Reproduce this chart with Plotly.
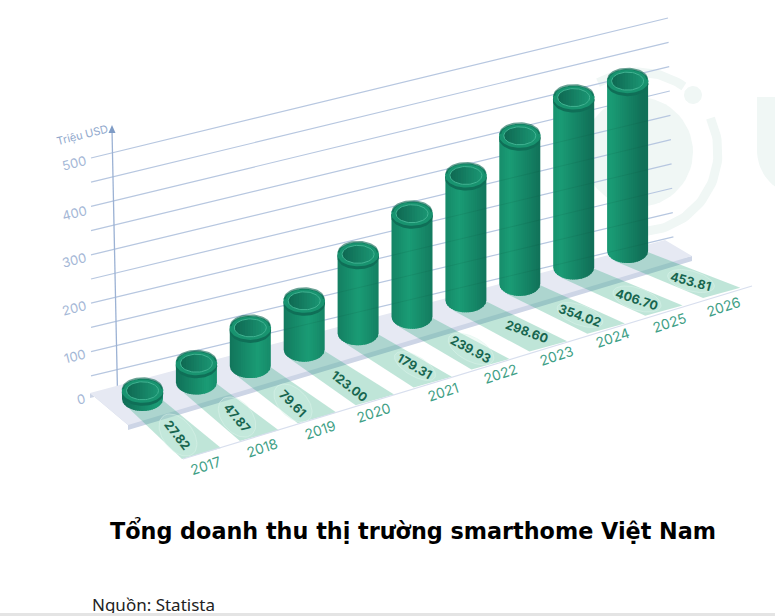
import math
import plotly.graph_objects as go

# ---------- data ----------
years = ["2017", "2018", "2019", "2020", "2021", "2022", "2023", "2024", "2025", "2026"]
printed_values = ["27.82", "47.87", "79.61", "123.00", "179.31", "239.93", "298.60", "354.02", "406.70", "453.81"]
# column heights as drawn, read against the chart's own value axis
drawn_heights = [17, 40, 79, 101, 163, 213, 258, 306, 351, 351]
axis_ticks = [0, 100, 200, 300, 400, 500]
grid_levels = [50, 100, 150, 200, 250, 300, 350, 400, 450, 500]
axis_unit = "Triệu USD"
title_text = "Tổng doanh thu thị trường smarthome Việt Nam"
source_text = "Nguồn: Statista"

# ---------- oblique projection of the printed 3D scene ----------
W, H = 775, 616
K = 0.484
A, B = 20.5, 12


def base_xy(i):
    return 142.5 + 53.9 * i, 399 - 16.44 * i


def top_xy(i):
    x, y = base_xy(i)
    return x, y - drawn_heights[i] * K


def grid_line(v):
    y0 = 400 - K * v
    x1 = 674 - 6 * v / 500
    return [91, x1], [y0, y0 - (x1 - 91) * (0.238 + 0.0046 * v / 500)]


def ell(cx, cy, a, b, t0=0, t1=360, n=60, rot=0):
    xs, ys = [], []
    cr, sr = math.cos(math.radians(rot)), math.sin(math.radians(rot))
    for k in range(n + 1):
        t = math.radians(t0 + (t1 - t0) * k / n)
        px, py = a * math.cos(t), b * math.sin(t)
        xs.append(cx + px * cr - py * sr)
        ys.append(cy + px * sr + py * cr)
    return xs, ys


def mix(c1, c2, f):
    f = max(0, min(1, f))
    return "#%02x%02x%02x" % tuple(round(c1[j] + (c2[j] - c1[j]) * f) for j in range(3))


DARK, LIGHT = (17, 112, 88), (26, 156, 117)

fig = go.Figure()


def poly(xs, ys, fill, line=None, width=0):
    fig.add_trace(go.Scatter(
        x=xs, y=ys, mode="lines", fill="toself", fillcolor=fill,
        line=dict(color=line or fill, width=width), hoverinfo="skip", showlegend=False))


def stroke(xs, ys, color, width):
    fig.add_trace(go.Scatter(
        x=xs, y=ys, mode="lines", line=dict(color=color, width=width),
        hoverinfo="skip", showlegend=False))


# ---------- faint watermark ----------
WM = "#f0f7f5"
x, y = ell(638, 152, 55, 55)
poly(x, y, WM)
x, y = ell(638, 152, 80, 80, -25, 110, 50)
stroke(x, y, WM, 9)
x, y = ell(638, 152, 80, 80, -120, -55, 30)
stroke(x, y, WM, 9)
x, y = ell(693, 95, 9, 9)
poly(x, y, WM)
ux, uy = ell(800, 150, 43, 45, 90, 180, 20)
poly([757, 800] + ux + [757], [97, 97] + uy + [97], WM)

# ---------- grid and value axis ----------
for v in grid_levels:
    gx, gy = grid_line(v)
    stroke(gx, gy, "#b7c7e0", 1.2)
stroke([117.5, 112], [392, 130], "#9cb2d4", 1.3)
poly([112, 108.5, 115.5, 112], [125, 133, 133, 125], "#7f9cc6")

# ---------- platform ----------
poly([90, 128, 128, 692, 692, 90, 90], [393, 425, 430, 261, 256, 398, 393], "#cdd5e6")
poly([90, 128, 692, 665, 90], [393, 425, 256, 240, 393], "#e6e9f3")

# ---------- strips under each column ----------
for i in range(10):
    bx, by = base_xy(i)
    rx, ry = 221 + 57.7 * i, 448 - 17.8 * i
    lx, ly = 182 + 57.9 * i, 459 - 17.9 * i
    poly([bx - 13, bx + 20, rx, lx, bx - 13],
         [by + 10, by + 1, ry, ly, by + 10], "rgba(18,160,112,0.27)")
stroke([183, 752], [459, 286], "#d8dfee", 1.2)

# ---------- cylinder bodies, drawn as shaded vertical slices, left to right ----------
N_SLICES = 22
for i in range(10):
    bx, by = base_xy(i)
    tx, ty = top_xy(i)
    glow = 0.85 - 0.68 * i / 8
    for k in range(N_SLICES):
        # each slice runs on past its right edge, the next one paints over it
        u0, u1 = -1 + 2 * k / N_SLICES, min(1, -1 + 2 * (k + 1.6) / N_SLICES)
        uc = (k + 0.5) / N_SLICES
        level = 1 - abs(uc - glow) * 1.3
        c = mix(DARK, LIGHT, level)
        us = [u0 + (u1 - u0) * q / 4 for q in range(5)]
        px = [bx + A * u for u in us]
        py = [by + B * math.sqrt(max(0, 1 - u * u)) for u in us]
        poly([px[0], px[-1]] + px[::-1] + [px[0]], [ty, ty] + py[::-1] + [ty], c)

# faint grid lines showing through the columns
for v in grid_levels:
    gx, gy = grid_line(v)
    slope = (gy[1] - gy[0]) / (gx[1] - gx[0])
    for i in range(10):
        bx, by = base_xy(i)
        tx, ty = top_xy(i)
        xa, xb = bx - A + 1, bx + A - 1
        ya = gy[0] + (xa - gx[0]) * slope
        yb = gy[0] + (xb - gx[0]) * slope
        if min(ya, yb) > ty + B + 4 and max(ya, yb) < by + 4:
            stroke([xa, xb], [ya, yb], "rgba(5,60,45,0.14)", 0.8)

# ---------- cylinder tops ----------
for i in range(10):
    tx, ty = top_xy(i)
    x, y = ell(tx, ty + 3, A + 0.3, B)
    poly(x, y, "#0f6f57")
    x, y = ell(tx, ty, A + 0.3, B)
    poly(x, y, "#18936f")
    x, y = ell(tx, ty - 2, A - 1, B - 1.5, 180, 360, 30)
    stroke(x, y, "rgba(10,100,78,0.6)", 2)
    # inner well, darker towards the left
    M = 12
    a_in, b_in = 16, 9
    for k in range(M):
        u0, u1 = -1 + 2 * k / M, min(1, -1 + 2 * (k + 1.5) / M)
        us = [u0 + (u1 - u0) * q / 3 for q in range(4)]
        hs = [b_in * math.sqrt(max(0, 1 - u * u)) for u in us]
        xs = [tx + a_in * u for u in us]
        c = mix((15, 104, 82), (27, 150, 115), (k + 0.5) / M)
        poly(xs + xs[::-1] + [xs[0]], [ty - h for h in hs] + [ty + h for h in hs[::-1]] + [ty - hs[0]], c)
    x, y = ell(tx, ty, a_in, b_in)
    stroke(x, y, "#41b392", 1)

# ---------- value pills ----------
value_xy = [(178, 435), (237, 417), (293, 403), (350, 386), (415, 366),
            (471, 349), (527, 331), (580, 315), (637, 299), (691, 281)]
value_rot = [52, 50, 45, 38, 30, 28, 20, 20, 18, 15]
pill_size = [(24, 15), (23, 15), (23, 14), (0, 0), (23, 10), (25, 12), (0, 0), (24, 10), (25, 11), (24, 10)]
for (cx, cy), rot, (pa, pb) in zip(value_xy, value_rot, pill_size):
    if pa:
        x, y = ell(cx, cy, pa, pb, rot=rot)
        poly(x, y, "rgba(205,238,226,0.3)", line="rgba(222,245,237,0.7)", width=0.7)

# ---------- text ----------
ann = []


def label(x, y, text, size, color, angle=0, bold=False, anchor="center", family="Inter"):
    ann.append(dict(x=x, y=y, xref="x", yref="y", text=f"<b>{text}</b>" if bold else text,
                    showarrow=False, xanchor=anchor, yanchor="middle", textangle=angle,
                    font=dict(family=family, size=size, color=color)))


for v, yy, xx in zip(axis_ticks, [399, 356, 308, 260, 213, 163], [81, 75, 74, 74, 74, 74]):
    label(xx, yy, str(v), 13, "#a4b7d6", -14)
label(82, 135, axis_unit, 11, "#92a9cd", -14)

year_xy = [(205, 465), (262, 447), (320, 429), (373, 412), (443, 391),
           (500, 373), (556, 355), (612, 337), (669, 322), (723, 306)]
for yr, (xx, yy) in zip(years, year_xy):
    label(xx, yy, yr, 14, "#3f9f86", -18)
for val, (xx, yy), rot in zip(printed_values, value_xy, value_rot):
    label(xx, yy, val, 12.5, "#17654f", rot, bold=True)

label(413, 530, title_text, 22.3, "#000000", bold=True, family="DejaVu Sans")
label(90, 604, source_text, 17, "#222222", anchor="left", family="Noto Sans")
# thin rule along the bottom of the page
ann.append(dict(x=0, y=613, xref="x", yref="y", text=" ", showarrow=False, xanchor="left", yanchor="top",
                width=775, height=3, bgcolor="#e4e4e4", borderpad=0, borderwidth=0, font=dict(size=1)))

fig.update_layout(
    width=W, height=H, margin=dict(l=0, r=0, t=0, b=0), autosize=False,
    paper_bgcolor="white", plot_bgcolor="white", showlegend=False,
    xaxis=dict(range=[0, W], visible=False, fixedrange=True),
    yaxis=dict(range=[H, 0], visible=False, fixedrange=True),
    annotations=ann,
)
fig.write_html("out.html", config={"displayModeBar": False},
               post_script="document.body.style.margin='0';document.body.style.overflow='hidden';")
